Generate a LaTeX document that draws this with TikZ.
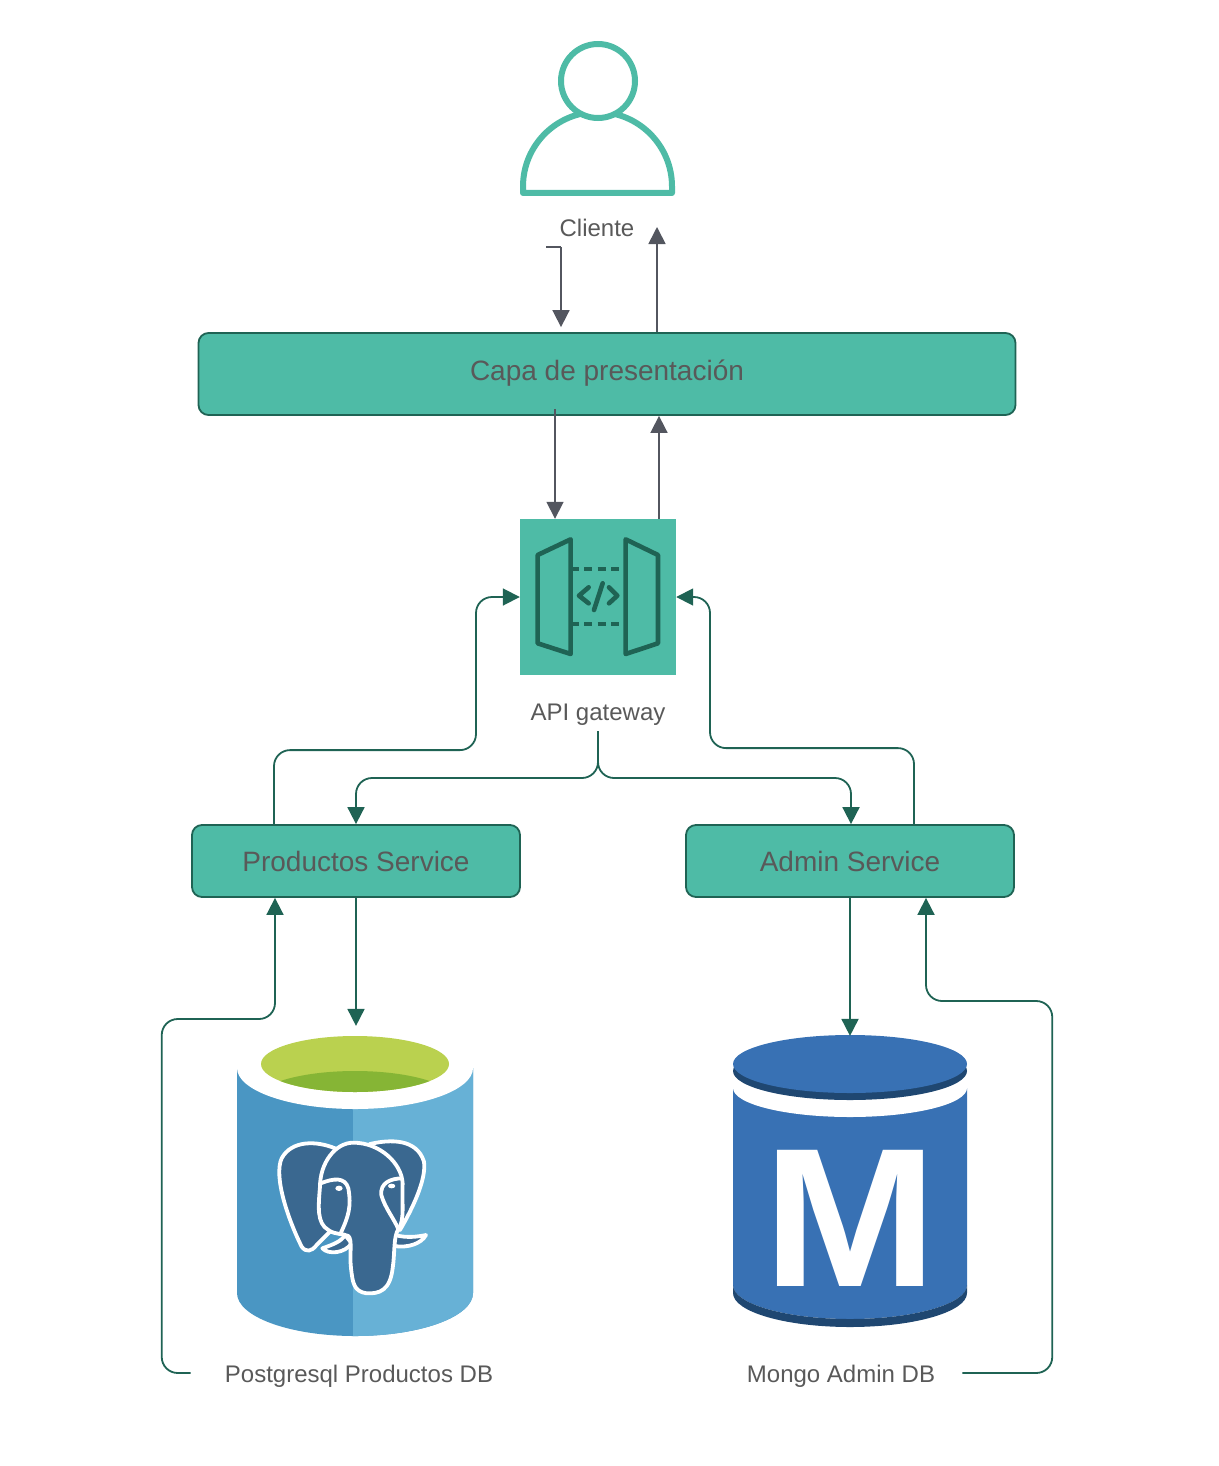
\documentclass[tikz,border=0pt]{standalone}
\usepackage{fontspec}
\setmainfont{Liberation Sans}
\usepackage{xcolor}
\usetikzlibrary{arrows.meta,positioning}
\definecolor{tealfill}{HTML}{4EBBA6}
\definecolor{tealline}{HTML}{1F6354}
\definecolor{slateline}{HTML}{53565F}
\definecolor{labelgray}{HTML}{595959}
\definecolor{pgleft}{HTML}{4A96C3}
\definecolor{pgright}{HTML}{67B1D6}
\definecolor{pgdark}{HTML}{3A6890}
\definecolor{limetop}{HTML}{BAD14F}
\definecolor{limelow}{HTML}{86B535}
\definecolor{mongoblue}{HTML}{3871B4}
\definecolor{mongodark}{HTML}{1F4771}

\begin{document}
\begin{tikzpicture}[x=1pt, y=-1pt, on grid,
    servicebox/.style = {draw=tealline, fill=tealfill, rounded corners=10pt, line width=1.8pt,
      text=labelgray, font=\fontsize{28}{32}\selectfont, inner sep=0pt},
    caption/.style = {text=labelgray, font=\fontsize{24}{28}\selectfont, inner sep=0pt},
    slateflow/.style = {draw=slateline, line width=1.7pt, -{Triangle[length=17pt, width=17pt]}},
    tealflow/.style = {draw=tealline, line width=1.8pt, rounded corners=16pt, -{Triangle[length=17pt, width=17pt]}},
    icon/.style = {draw=tealline, line width=4.6pt, line join=round, line cap=round}]
    \useasboundingbox (0,0) rectangle (1218,1466);

    % person
    \draw[draw=tealfill, line width=6pt, line join=round] (523,193) -- (523,186.5)
      arc[start angle=180, end angle=360, radius=74.5] -- (672,193) -- cycle;
    \draw[draw=tealfill, fill=white, line width=6pt] (598,81) circle (37);

    \node[caption] (cliente) at (597,228) {Cliente};
    \node[servicebox, minimum width=817pt, minimum height=82pt, below = 146pt of cliente, xshift=10pt] (capa) {\raisebox{7pt}{Capa de presentación}};
    \node[fill=tealfill, minimum size=156pt, inner sep=0pt, below = 223pt of capa, xshift=-9pt] (gateway) {};
    \node[caption, below = 118pt of gateway] (gatewaylabel) {API gateway};
    \node[servicebox, minimum width=328pt, minimum height=72pt, below = 264pt of gateway, xshift=-242pt] (productos) {\raisebox{-5pt}{Productos Service}};
    \node[servicebox, minimum width=328pt, minimum height=72pt, right = 494pt of productos] (admin) {\raisebox{-5pt}{Admin Service}};
    \node[caption, below = 515pt of productos, xshift=3pt] (pgdb) {Postgresql Productos DB};
    \node[caption, below = 515pt of admin, xshift=-9pt] (mongodb) {Mongo Admin DB};

    % gateway icon
    \begin{scope}[shift={(500,500)}, x=0.3333pt, y=-0.3333pt]
      \draw[icon] (113,165) -- (212,118) -- (212,462) -- (113,430) -- cycle;
      \draw[icon] (377,118) -- (474,165) -- (474,430) -- (377,462) -- cycle;
      \draw[icon, line cap=butt, dash pattern=on 8pt off 5.5pt] (212,207) -- (377,207);
      \draw[icon, line cap=butt, dash pattern=on 8pt off 5.5pt] (212,372) -- (377,372);
      \draw[icon] (266,262) -- (237,287) -- (266,310);
      \draw[icon] (327,262) -- (352,287) -- (327,310);
      \draw[icon] (308,250) -- (282,330);
    \end{scope}

    % postgres cylinder
    \fill[pgleft] (237,1068) -- (237,1293) arc[start angle=180, end angle=0, x radius=118, y radius=43] -- (473,1068) -- cycle;
    \begin{scope}
      \clip (353,1000) rectangle (480,1340);
      \fill[pgright] (237,1068) -- (237,1293) arc[start angle=180, end angle=0, x radius=118, y radius=43] -- (473,1068) -- cycle;
    \end{scope}
    \fill[white] (355,1068) ellipse [x radius=118, y radius=41];
    \fill[limetop] (355,1064) ellipse [x radius=94, y radius=28];
    \begin{scope}
      \clip (355,1064) ellipse [x radius=94, y radius=28];
      \fill[limelow] (355,1101) ellipse [x radius=100, y radius=30];
    \end{scope}

    % elephant
    \begin{scope}[shift={(220,1020)}, x=0.3333pt, y=-0.3333pt, line width=3.8pt, draw=white, fill=pgdark, line join=round]
      \filldraw (345,385) .. controls (290,362) and (215,360) .. (185,415)
        .. controls (160,470) and (205,600) .. (245,680)
        .. controls (258,698) and (275,695) .. (290,675) -- (335,630) -- (400,500) -- cycle;
      \filldraw (450,372) .. controls (510,358) and (590,355) .. (612,425)
        .. controls (620,480) and (575,570) .. (540,630) -- (480,500) -- cycle;
      \filldraw (375,645) .. controls (365,665) and (335,675) .. (307,685)
        .. controls (325,705) and (375,700) .. (395,670) -- cycle;
      \filldraw (525,645) .. controls (560,655) and (595,650) .. (618,645)
        .. controls (605,670) and (565,685) .. (522,678) -- cycle;
      \filldraw (300,500) .. controls (300,430) and (345,368) .. (400,368)
        .. controls (480,368) and (545,430) .. (548,490)
        .. controls (545,550) and (555,600) .. (535,628)
        .. controls (520,650) and (525,700) .. (518,745)
        .. controls (510,810) and (480,822) .. (440,820)
        .. controls (400,815) and (398,785) .. (393,745)
        .. controls (388,700) and (398,660) .. (385,648)
        .. controls (370,640) and (345,645) .. (325,630)
        .. controls (290,610) and (295,560) .. (300,500) -- cycle;
      \draw (302,490) .. controls (340,475) and (375,470) .. (385,505)
        .. controls (395,560) and (385,590) .. (362,640);
      \draw (548,475) .. controls (510,475) and (480,490) .. (484,525)
        .. controls (495,565) and (525,600) .. (535,628);
      \fill[white] (357,505) ellipse [x radius=11, y radius=8];
      \fill[white] (515,498) ellipse [x radius=11, y radius=7];
    \end{scope}

    % mongo cylinder
    \fill[mongoblue] (733,1088) -- (733,1285) arc[start angle=180, end angle=0, x radius=117, y radius=34] -- (967,1088) -- cycle;
    \fill[mongodark] (733,1285) -- (733,1293) arc[start angle=180, end angle=0, x radius=117, y radius=34] -- (967,1285)
      arc[start angle=0, end angle=180, x radius=117, y radius=34] -- cycle;
    \fill[white] (850,1088) ellipse [x radius=117, y radius=29];
    \fill[white] (733,1060) rectangle (967,1088);
    \fill[mongodark] (850,1071) ellipse [x radius=117, y radius=29];
    \fill[mongoblue] (850,1064) ellipse [x radius=117, y radius=29];
    \node[text=white, inner sep=0pt] (mongomark) at (850,1218.5) {\scalebox{1.054}[1]{\fontsize{198}{198}\selectfont\bfseries M}};

    % free ends
    \coordinate[below = 19pt of cliente, xshift=-51pt] (clientein);
    \coordinate[below = 19pt of cliente, xshift=-36pt] (clientebend);
    \coordinate[right = 60pt of cliente, yshift=1pt] (clienteout);
    \coordinate[below = 16pt of gatewaylabel] (gatewayout);
    \coordinate[left = 34pt of pgdb.west, yshift=3pt] (pgback);
    \coordinate[right = 27pt of mongodb.east, yshift=3pt] (mongoback);

    % flows
    \draw[draw=slateline, line width=1.7pt] (clientein) -- (clientebend);
    \draw[slateflow] (clientebend) -- ([xshift=-46pt, yshift=5pt]capa.north);
    \draw[slateflow] ([xshift=50pt]capa.north) -- (clienteout);
    \draw[slateflow] ([xshift=-52pt, yshift=7pt]capa.south) -- ([xshift=-43pt]gateway.north);
    \draw[slateflow] ([xshift=61pt]gateway.north) -- ([xshift=52pt]capa.south);

    \draw[tealflow] ([xshift=-82pt]productos.north) -- ++(0,-74) -- ++(202,0) |- (gateway.west);
    \draw[tealflow] ([xshift=64pt]admin.north) -- ++(0,-76) -- ++(-204,0) |- (gateway.east);
    \draw[tealflow] (gatewayout) -- ++(0,47) -| (productos.north);
    \draw[tealflow] (gatewayout) -- ++(0,47) -| ([xshift=1pt]admin.north);
    \draw[tealflow] (productos.south) -- ++(0,128);
    \draw[tealflow] (admin.south) -- ++(0,138);
    \draw[tealflow] (pgback) -- ++(-29,0) -- ++(0,-354) -| ([xshift=-81pt]productos.south);
    \draw[tealflow] (mongoback) -- ++(90,0) -- ++(0,-372) -| ([xshift=76pt]admin.south);
\end{tikzpicture}
\end{document}
